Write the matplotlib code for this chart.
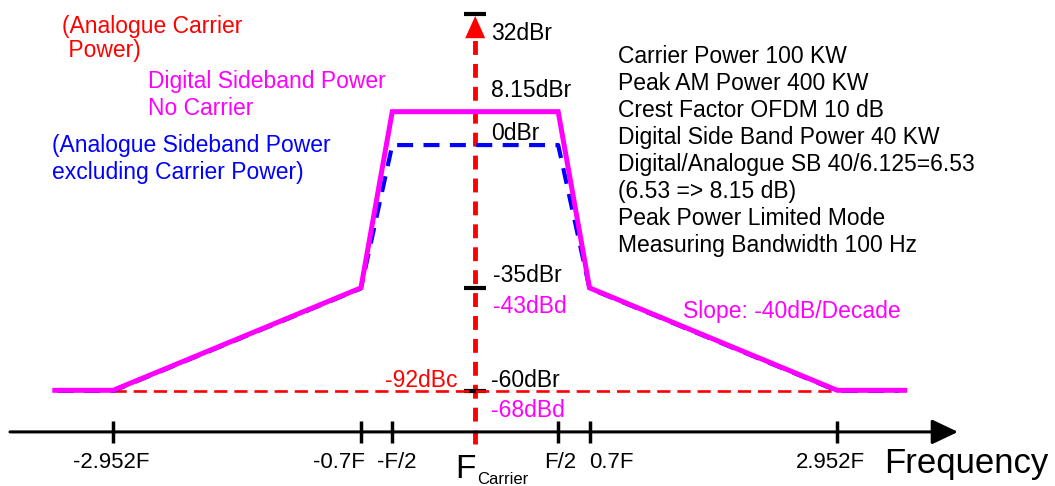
import numpy as np
import matplotlib
matplotlib.use("Agg")
import matplotlib.pyplot as plt

plt.rcParams['font.family'] = ['Liberation Sans', 'DejaVu Sans']
plt.rcParams['lines.scale_dashes'] = False

# spectrum mask breakpoints, frequency offset in units of F
DIGITAL_FREQ = [-3.8, -2.952, -0.7, -0.5, 0.5, 0.7, 2.952, 3.95]
DIGITAL_DBD = [-68, -68, -43, 0, 0, -43, -68, -68]
DIGITAL_REF_DBR = 8.15

ANALOGUE_FREQ = [-3.75, -2.952, -0.7, -0.5, 0.5, 0.7, 2.952, 3.85]
ANALOGUE_DBR = [-60, -60, -35, 0, 0, -35, -60, -60]

FLOOR_DBR = -60
FLOOR_SPAN = [-2.952, 2.952]
LEVEL_TICKS_DBR = [32, -35, -60]
AXIS_DBR = -70

F_TICKS = [-2.952, -0.7, -0.5, 0.5, 0.7, 2.952]
F_TICK_LABELS = ['-2.952F', '-0.7F', '-F/2', 'F/2', '0.7F', '2.952F']

NOTES = ['Carrier Power 100 KW',
         'Peak AM Power 400 KW',
         'Crest Factor OFDM 10 dB',
         'Digital Side Band Power 40 KW',
         'Digital/Analogue SB 40/6.125=6.53',
         '(6.53 => 8.15 dB)',
         'Peak Power Limited Mode',
         'Measuring Bandwidth 100 Hz']

W, H = 1055, 486
fig = plt.figure(figsize=(W / 100, H / 100), dpi=100)
ax = fig.add_axes([0, 0, 1, 1])
ax.set_xscale('asinh', linear_width=1.5)
ax.set_xlim(-4.78, 7.32)
ax.set_ylim(-83.2, 35.4)
ax.axis('off')

RED, MAG, BLUE = '#ff0000', '#ff00ff', '#0000ff'
FS = 16.5


def ftext(x, y, s, **kw):
    # place text by pixel position (y measured from top)
    kw.setdefault('fontsize', FS)
    fig.text(x / W, 1 - y / H, s, va='baseline', **kw)


# carrier marker: dashed red line with arrow head
ax.plot([0, 0], [-73, 26], color=RED, lw=3.5, dashes=(10, 6.5))
ax.annotate('', xy=(0, 31.5), xytext=(0, 25.5),
            arrowprops=dict(arrowstyle='-|>,head_length=0.8,head_width=0.36',
                            color=RED, lw=0, shrinkA=0, shrinkB=0,
                            mutation_scale=20))
ax.plot(np.zeros(len(LEVEL_TICKS_DBR)), LEVEL_TICKS_DBR, ls='none',
        marker='_', ms=16, mew=3, color='black')

# -60 dBr floor
ax.plot(FLOOR_SPAN, [FLOOR_DBR, FLOOR_DBR], color=RED, lw=1.9, dashes=(9.5, 5))

# analogue sideband mask
ax.plot(ANALOGUE_FREQ, ANALOGUE_DBR, color=BLUE, lw=3, dashes=(11.5, 7.5))
# digital sideband mask
ax.plot(DIGITAL_FREQ, np.array(DIGITAL_DBD) + DIGITAL_REF_DBR, color=MAG,
        lw=3.6, solid_joinstyle='miter')

# frequency axis
ax.annotate('', xy=(958 / W, AXIS_DBR), xytext=(10 / W, AXIS_DBR),
            xycoords=('axes fraction', 'data'),
            arrowprops=dict(arrowstyle='-|>,head_length=0.8,head_width=0.38',
                            color='black', lw=2.2, shrinkA=0, shrinkB=0,
                            mutation_scale=20))
ax.plot(F_TICKS, [AXIS_DBR] * len(F_TICKS), ls='none', marker='|', ms=16,
        mew=2.5, color='black')

label_shift = [-2, -22, 4, 2, 22, -7]
for f, lab, dx in zip(F_TICKS, F_TICK_LABELS, label_shift):
    ax.annotate(lab, xy=(f, 1 - 468 / H), xycoords=('data', 'axes fraction'),
                xytext=(dx, 0), textcoords='offset pixels',
                ha='center', va='baseline', fontsize=16)

ftext(455, 478, 'F', fontsize=24)
ftext(477, 484, 'Carrier', fontsize=12)
ftext(884, 473, 'Frequency', fontsize=25)

# level annotations along the carrier line
levels = [
    ('32dBr', 32, 16, -26, 'black'),
    ('8.15dBr', DIGITAL_REF_DBR, 16, 15, 'black'),
    ('0dBr', 0, 16, 5, 'black'),
    ('-35dBr', -35, 18, 6, 'black'),
    ('-43dBd', -43 + DIGITAL_REF_DBR, 18, -25, MAG),
    ('-60dBr', FLOOR_DBR, 16, 4, 'black'),
    ('-68dBd', -68 + DIGITAL_REF_DBR, 16, -27, MAG),
]
for s, lvl, dx, dy, c in levels:
    ax.annotate(s, xy=(0, lvl), xytext=(dx, dy), textcoords='offset pixels',
                ha='left', va='baseline', fontsize=FS, color=c)
ax.annotate('-92dBc', xy=(0, FLOOR_DBR), xytext=(-18, 4),
            textcoords='offset pixels', ha='right', va='baseline',
            fontsize=FS, color=RED)

ftext(62, 32.5, '(Analogue Carrier', color=RED)
ftext(62, 56.5, ' Power)', color=RED)
ftext(148, 88, 'Digital Sideband Power', color=MAG)
ftext(148, 115, 'No Carrier', color=MAG)
ftext(52, 152, '(Analogue Sideband Power', color=BLUE)
ftext(52, 179, 'excluding Carrier Power)', color=BLUE)
ftext(683, 318, 'Slope: -40dB/Decade', color=MAG)

for i, line in enumerate(NOTES):
    ftext(618, 63 + 27 * i, line)

fig.savefig('out.png', dpi=100)
